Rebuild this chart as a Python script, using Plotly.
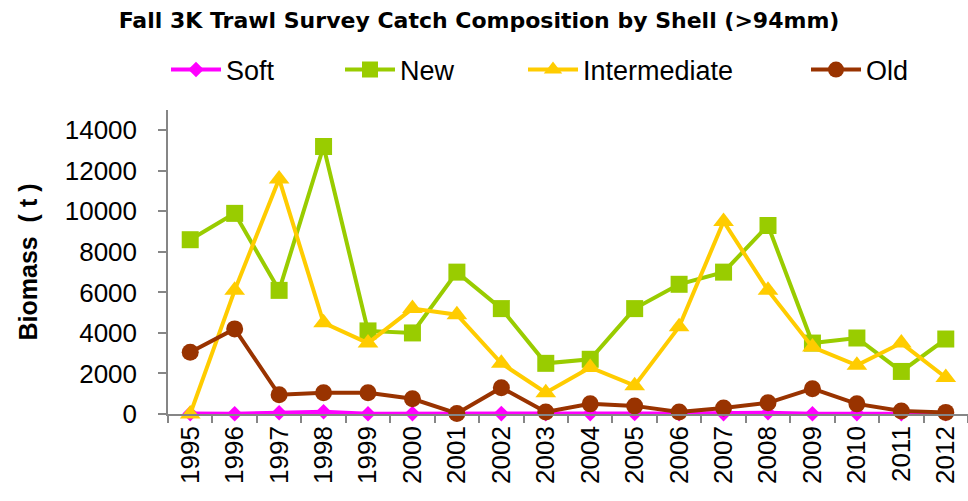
import plotly.graph_objects as go

# Survey years and biomass (t) by shell condition
years = [str(y) for y in range(1995, 2013)]
soft = [20, 10, 60, 110, 10, 20, 30, 20, 10, 20, 30, 20, 20, 60, 10, 20, 20, 10]
new = [8600, 9900, 6100, 13200, 4100, 4000, 7000, 5200, 2500, 2700,
       5200, 6400, 7000, 9300, 3500, 3750, 2100, 3700]
intermediate = [0, 6100, 11600, 4500, 3500, 5200, 4900, 2500, 1050, 2300,
                1400, 4300, 9500, 6100, 3300, 2400, 3500, 1800]
old = [3050, 4200, 950, 1050, 1050, 750, 30, 1300, 100, 500,
       400, 100, 300, 550, 1250, 500, 150, 80]
y_ticks = list(range(0, 14001, 2000))

series = [
    ("Soft", soft, "#FF00FF", "diamond", 12, "legend"),
    ("New", new, "#99CC00", "square", 17, "legend2"),
    ("Intermediate", intermediate, "#FFCC00", "triangle-up", 18, "legend3"),
    ("Old", old, "#993300", "circle", 17, "legend4"),
]

fig = go.Figure()
for name, vals, color, symbol, size, lg in series:
    fig.add_trace(go.Scatter(
        x=years, y=vals, name=name, mode="lines+markers",
        line=dict(color=color, width=4),
        marker=dict(color=color, symbol=symbol, size=size),
        cliponaxis=False, legend=lg,
    ))

W, H = 968, 501
legend_font = dict(family="Liberation Sans, Arial, sans-serif", size=27, color="#000000")


def legend_at(px):
    return dict(x=px / W, xref="container", xanchor="left",
                y=1 - 70 / H, yref="container", yanchor="middle",
                orientation="h", font=legend_font, itemwidth=50,
                bgcolor="rgba(0,0,0,0)", borderwidth=0)


fig.update_layout(
    width=W, height=H,
    margin=dict(l=168, r=0, t=110, b=87),
    paper_bgcolor="white", plot_bgcolor="white",
    font=dict(family="Liberation Sans, Arial, sans-serif", size=26, color="#000000"),
    title=dict(
        text="<b>Fall 3K Trawl Survey Catch Composition by Shell (>94mm)</b>",
        x=479 / W, xanchor="center", y=1 - 20 / H, yanchor="middle",
        font=dict(family="DejaVu Sans, sans-serif", size=22, color="#000000"),
    ),
    legend=legend_at(166),
    legend2=legend_at(340),
    legend3=legend_at(523),
    legend4=legend_at(806),
    showlegend=True,
    xaxis=dict(
        type="category", tickson="boundaries", ticks="outside", ticklen=7,
        tickcolor="#868686", tickwidth=1.5,
        showline=True, linecolor="#868686", linewidth=1.5,
        showgrid=False, zeroline=False, tickangle=-90,
        tickfont=dict(size=26),
        range=[-0.5, 17.5],
    ),
    yaxis=dict(
        range=[0, 15000], tickvals=y_ticks, ticktext=[str(v) for v in y_ticks],
        ticks="outside", ticklen=8, tickcolor="#868686", tickwidth=1.5,
        showline=True, linecolor="#868686", linewidth=1.5,
        showgrid=False, zeroline=False,
        tickfont=dict(size=26), ticklabelstandoff=16,
        title=dict(text="<b>Biomass\u00a0\u00a0(\u00a0t\u00a0)</b>", standoff=20,
                   font=dict(size=25)),
    ),
)

fig.write_html("out.html")
